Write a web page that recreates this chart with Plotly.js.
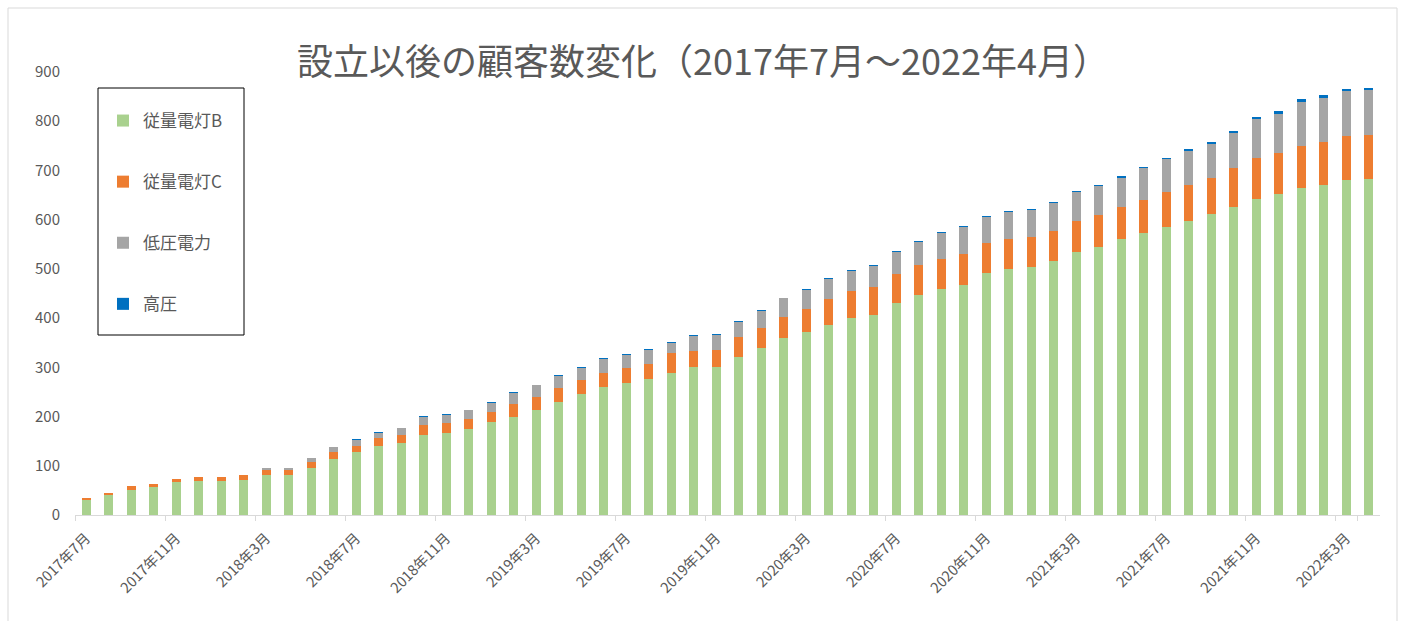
<!DOCTYPE html>
<html>
<head>
<meta charset="utf-8">
<script src="https://cdn.plot.ly/plotly-3.0.1.min.js"></script>
<style>
  html, body { margin: 0; padding: 0; background: #ffffff; }
  #chart { width: 1401px; height: 621px; }
</style>
</head>
<body>
<div id="chart"></div>
<script>
// ---- data ----
const months = [
  "2017年7月","2017年8月","2017年9月","2017年10月","2017年11月","2017年12月",
  "2018年1月","2018年2月","2018年3月","2018年4月","2018年5月","2018年6月",
  "2018年7月","2018年8月","2018年9月","2018年10月","2018年11月","2018年12月",
  "2019年1月","2019年2月","2019年3月","2019年4月","2019年5月","2019年6月",
  "2019年7月","2019年8月","2019年9月","2019年10月","2019年11月","2019年12月",
  "2020年1月","2020年2月","2020年3月","2020年4月","2020年5月","2020年6月",
  "2020年7月","2020年8月","2020年9月","2020年10月","2020年11月","2020年12月",
  "2021年1月","2021年2月","2021年3月","2021年4月","2021年5月","2021年6月",
  "2021年7月","2021年8月","2021年9月","2021年10月","2021年11月","2021年12月",
  "2022年1月","2022年2月","2022年3月","2022年4月"
];

const seriesNames = ["従量電灯B", "従量電灯C", "低圧電力", "高圧"];

const lightingB = [30,41,51,57,67,70,70,72,81,81, 95,114,128,140,146,162,166,175,189,200,
  213,230,245,260,268,276,288,301,301,322, 340,360,372,386,400,407,431,447,460,468,
  492,500,504,516,535,545,561,572,586,598, 611,626,643,652,664,670,681,683];

const lightingC = [5,4,7,7,6,8,8,9,11,11, 12,14,13,16,17,20,20,20,20,26,
  27,28,29,29,30,31,42,33,34,39, 39,42,47,53,55,56,58,60,60,62,
  61,60,61,62,63,64,64,68,71,72, 74,78,82,84,86,88,89,89];

const lowVoltage = [0,0,0,0,0,0,0,0,3,3, 8,10,12,11,13,18,18,18,19,22,
  24,25,24,27,28,28,19,30,30,32, 36,38,39,41,41,43,45,48,52,55,
  53,55,54,56,58,59,60,64,66,70, 68,72,79,79,89,90,91,91];

const highVoltage = [0,0,0,0,0,0,0,0,0,0, 0,1,1,2,1,1,1,1,2,2,
  1,2,2,2,2,2,2,2,2,1, 1,1,1,1,2,1,2,2,2,2,
  2,3,3,2,3,3,3,3,3,3, 4,5,5,5,6,5,5,5];

const yTicks = [0,100,200,300,400,500,600,700,800,900];
const labelStep = 4;

// ---- styling ----
const colors = ["#A9D18E", "#ED7D31", "#A5A5A5", "#0070C0"];
const seriesValues = [lightingB, lightingC, lowVoltage, highVoltage];
const FONT = '"Noto Sans CJK JP", "Noto Sans", sans-serif';
const TEXT = "#595959";

const traces = seriesValues.map((vals, i) => ({
  type: "bar",
  name: seriesNames[i],
  x: months,
  y: vals,
  legendgroup: "g" + i,
  marker: { color: colors[i], line: { width: 0 } },
  hoverinfo: "x+y+name"
}));

const tickVals = months.filter((m, i) => i % labelStep === 0);

const W = 1401, H = 621;
const M = { l: 75, r: 21, t: 72, b: 106 };
const PW = W - M.l - M.r, PH = H - M.t - M.b;
const px2x = p => (p - M.l) / PW;
const px2y = p => (H - M.b - p) / PH;

const layout = {
  width: W, height: H,
  margin: { l: M.l, r: M.r, t: M.t, b: M.b, pad: 0 },
  paper_bgcolor: "#ffffff",
  plot_bgcolor: "#ffffff",
  font: { family: FONT, color: TEXT },
  barmode: "stack",
  bargap: 0.6,
  title: {
    text: "設立以後の顧客数変化（2017年7月～2022年4月）",
    font: { family: FONT, size: 36, color: TEXT },
    xref: "container", x: 703 / W, xanchor: "center",
    yref: "container", y: 1 - 62 / H, yanchor: "middle"
  },
  xaxis: {
    type: "category",
    range: [-0.5, months.length - 0.5],
    tickmode: "array",
    tickvals: tickVals,
    ticktext: tickVals,
    tickangle: -45,
    tickson: "boundaries",
    ticks: "outside",
    ticklen: 5,
    tickcolor: "#D9D9D9",
    tickwidth: 1,
    ticklabelstandoff: 8,
    showline: true,
    linecolor: "#D9D9D9",
    linewidth: 1,
    showgrid: false,
    zeroline: false,
    tickfont: { family: FONT, size: 14.5, color: TEXT },
    fixedrange: true
  },
  yaxis: {
    range: [0, 900],
    tickmode: "array",
    tickvals: yTicks,
    ticktext: yTicks.map(String),
    showgrid: false,
    zeroline: false,
    showline: false,
    ticks: "",
    ticklabelstandoff: 14,
    tickfont: { family: FONT, size: 15, color: TEXT },
    fixedrange: true
  },
  showlegend: true,
  legend: {
    x: px2x(103), xanchor: "left",
    y: px2y(103), yanchor: "top",
    bgcolor: "rgba(0,0,0,0)",
    borderwidth: 0,
    traceorder: "grouped",
    tracegroupgap: 36,
    itemwidth: 30,
    font: { family: FONT, size: 17, color: TEXT }
  },
  shapes: [
    { // chart frame
      type: "rect", xref: "paper", yref: "paper",
      x0: px2x(8), x1: px2x(1397), y0: px2y(640), y1: px2y(8),
      line: { color: "#D9D9D9", width: 1 }, fillcolor: "rgba(0,0,0,0)", layer: "below"
    },
    { // legend box
      type: "rect", xref: "paper", yref: "paper",
      x0: px2x(98), x1: px2x(244), y0: px2y(335), y1: px2y(88),
      line: { color: "#000000", width: 1 }, fillcolor: "#ffffff", layer: "below"
    }
  ]
};

Plotly.newPlot("chart", traces, layout, { displayModeBar: false, staticPlot: true });
</script>
</body>
</html>
